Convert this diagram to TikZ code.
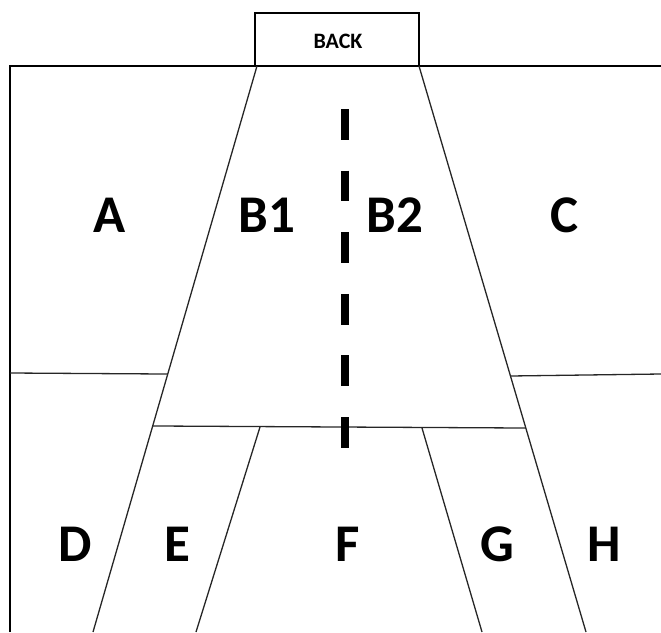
\documentclass[tikz,border=0pt]{standalone}
\usepackage{fontspec}
\setmainfont{Carlito}
\usetikzlibrary{calc}
\begin{document}
\begin{tikzpicture}[x=1pt,y=-1pt,
  frame/.style={line width=2.8pt,line join=miter},
  thin/.style={line width=1.3pt,draw=black!85},
  big/.style={font=\bfseries\fontsize{53}{60}\selectfont,inner sep=0pt,anchor=base},
  small/.style={font=\bfseries\fontsize{22}{26}\selectfont,inner sep=0pt,anchor=base}]
\useasboundingbox (0,0) rectangle (661,632);
% coordinates
\coordinate (tl) at (257,66);
\coordinate (tr) at (419,66);
\coordinate (bl) at (93,632);
\coordinate (br) at (586,632);
\coordinate (lh1) at (10,373);
\coordinate (lh2) at ($(tl)!0.5442!(bl)$);
\coordinate (rh1) at ($(tr)!0.5477!(br)$);
\coordinate (rh2) at (661,374);
\coordinate (mh1) at ($(tl)!0.6360!(bl)$);
\coordinate (mh2) at ($(tr)!0.6396!(br)$);
\coordinate (et) at (260,427);
\coordinate (eb) at (196,632);
\coordinate (gt) at (422,428);
\coordinate (gb) at (482,632);
\coordinate (dt) at (345,109);
\coordinate (db) at (345,448);
% outer frame and back box
\draw[frame] (10,632) -- (10,66) -- (661,66);
\draw[frame,fill=white] (255,13) rectangle (419,66);
\node[small] (back) at (338,48) {BACK};
% internal lines
\draw[thin] (tl) -- (bl);
\draw[thin] (tr) -- (br);
\draw[thin] (lh1) -- (lh2);
\draw[thin] (rh1) -- (rh2);
\draw[thin] (mh1) -- (mh2);
\draw[thin] (et) -- (eb);
\draw[thin] (gt) -- (gb);
\draw[line width=8pt,dash pattern=on 30.8pt off 30.8pt] (dt) -- (db);
% labels
\node[big] (A) at (110,232) {A};
\node[big] (B1) at (267,232) {B1};
\node[big] (B2) at (395,232) {B2};
\node[big] (C) at (565,232) {C};
\node[big] (D) at (75,561) {D};
\node[big] (E) at (177,561) {E};
\node[big] (F) at (348,561) {F};
\node[big] (G) at (497,561) {G};
\node[big] (H) at (604,561) {H};
\end{tikzpicture}
\end{document}
